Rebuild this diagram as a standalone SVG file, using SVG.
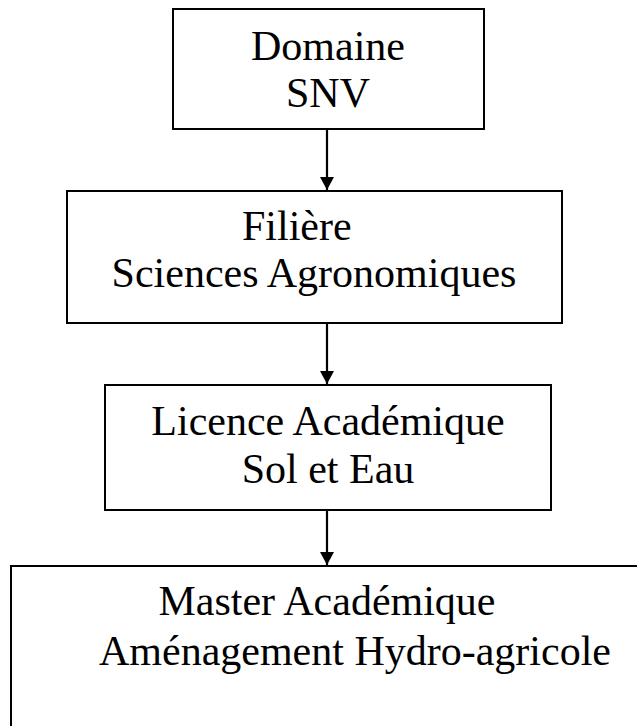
<svg xmlns="http://www.w3.org/2000/svg" width="637" height="726" viewBox="0 0 637 726">
<defs>
<style>
.box{fill:#fff;stroke:#000;stroke-width:2}
.t{font-family:"Liberation Serif","Times New Roman",serif;font-size:42px;fill:#000}
.c{text-anchor:middle}
.edge{stroke:#000;stroke-width:2.2;fill:none;marker-end:url(#ah)}
</style>
<marker id="ah" markerUnits="userSpaceOnUse" markerWidth="14" markerHeight="14" refX="13" refY="7" orient="auto" viewBox="0 0 14 14">
<path d="M0,0 L13,7 L0,14 Z" fill="#000"/>
</marker>
</defs>
<rect width="637" height="726" fill="#fff"/>
<g id="n1"><rect class="box" x="173" y="9" width="311" height="120"/>
<text class="t c" x="328" y="60">Domaine</text>
<text class="t c" x="328" y="107">SNV</text></g>
<g id="n2"><rect class="box" x="67" y="191" width="495" height="132"/>
<text class="t" x="242" y="240">Filière</text>
<text class="t c" x="314" y="287">Sciences Agronomiques</text></g>
<g id="n3"><rect class="box" x="105" y="385" width="446" height="125"/>
<text class="t c" x="328" y="435">Licence Académique</text>
<text class="t c" x="328" y="483">Sol et Eau</text></g>
<g id="n4"><rect class="box" x="11" y="566" width="640" height="180"/>
<text class="t c" x="327" y="615">Master Académique</text>
<text class="t c" x="355" y="665">Aménagement Hydro-agricole</text></g>
<g id="edges">
<path class="edge" d="M327,129 V190"/>
<path class="edge" d="M327,323 V384"/>
<path class="edge" d="M327,510 V565"/>
</g>
</svg>
